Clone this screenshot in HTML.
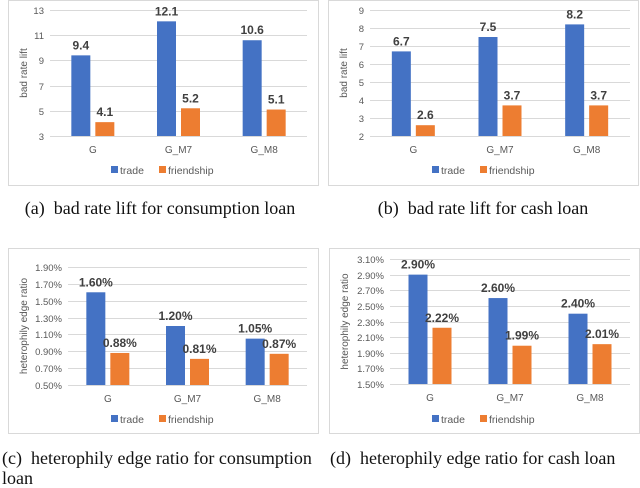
<!DOCTYPE html>
<html><head><meta charset="utf-8"><style>
body{margin:0;background:#fff;width:640px;height:486px;overflow:hidden;position:relative;font-family:"Liberation Sans",sans-serif}
svg{position:absolute;left:0;top:0}
.cap{position:absolute;font-family:"Liberation Serif",serif;font-size:18px;color:#111;white-space:nowrap}
</style></head><body>
<svg id="s" width="640" height="486"></svg>
<div class="cap" style="left:0px;top:198px;width:320px;text-align:center">(a)&nbsp; bad rate lift for consumption loan</div>
<div class="cap" style="left:328px;top:198px;width:310px;text-align:center">(b)&nbsp; bad rate lift for cash loan</div>
<div class="cap" style="left:2px;top:448px;line-height:20px">(c)&nbsp; heterophily edge ratio for consumption<br>loan</div>
<div class="cap" style="left:330px;top:448px">(d)&nbsp; heterophily edge ratio for cash loan</div>
<script>
const categories=["G","G_M7","G_M8"];
const tradeA=[9.4,12.1,10.6], friendA=[4.1,5.2,5.1];
const ticksA=[3,5,7,9,11,13];
const tradeB=[6.7,7.5,8.2], friendB=[2.6,3.7,3.7];
const ticksB=[2,3,4,5,6,7,8,9];
const tradeC=[1.60,1.20,1.05], friendC=[0.88,0.81,0.87];
const ticksC=[0.50,0.70,0.90,1.10,1.30,1.50,1.70,1.90];
const tradeD=[2.90,2.60,2.40], friendD=[2.22,1.99,2.01];
const ticksD=[1.50,1.70,1.90,2.10,2.30,2.50,2.70,2.90,3.10];
const svg=document.getElementById('s');const NS='http://www.w3.org/2000/svg';
function mk(t,a,txt){const e=document.createElementNS(NS,t);for(const k in a)e.setAttribute(k,a[k]);if(txt!=null)e.textContent=txt;svg.appendChild(e);return e;}
function chart(id,box,plot,ticks,trade,friend,fmt,tfmt,title,legY,legX){
  let b=mk('rect',{x:box[0]+.5,y:box[1]+.5,width:box[2],height:box[3],fill:'#fff',stroke:'#d9d9d9'});
  
  const [x0,y0,x1,y1]=plot;const lo=ticks[0],hi=ticks[ticks.length-1];
  const sy=v=>y1-(v-lo)/(hi-lo)*(y1-y0);
  ticks.forEach(t=>{const y=Math.round(sy(t))+.5;
    let g=mk('line',{x1:x0,x2:x1,y1:y,y2:y,stroke:'#d9d9d9'});
    let l=mk('text',{x:x0-6,y:y+3.5,'text-anchor':'end','font-size':'9.5',fill:'#595959'},tfmt(t));});
  let yt=mk('text',{transform:`translate(${box[0]+19},${(y0+y1)/2}) rotate(-90)`,'text-anchor':'middle','font-size':'10',fill:'#595959'},title);
  
  const cw=(x1-x0)/categories.length,bw=19,gap=5;
  categories.forEach((c,i)=>{const cx=x0+cw*(i+.5);
    [[trade[i],'#4472C4',cx-gap/2-bw,'trade'],[friend[i],'#ED7D31',cx+gap/2,'friendship']].forEach(([v,col,bx,n])=>{
      const y=sy(v);let r=mk('rect',{x:bx,y:y,width:bw,height:y1-y,fill:col});
      
      let t=mk('text',{x:bx+bw/2,y:y-6,'text-anchor':'middle','font-size':'12','font-weight':'bold',fill:'#404040'},fmt(v));
      });
    let cl=mk('text',{x:cx,y:y1+17,'text-anchor':'middle','font-size':'10',fill:'#595959'},c);
    });
  [['#4472C4','trade',legX],['#ED7D31','friendship',legX+48]].forEach(([col,n,lx])=>{
    let s=mk('rect',{x:lx,y:legY-4,width:7,height:7,fill:col});
    let t=mk('text',{x:lx+9,y:legY+4,'font-size':'10.5',fill:'#595959'},n);});
}
const f1=v=>v.toFixed(1),f0=v=>String(v),fp=v=>v.toFixed(2)+'%';
chart('chart-a',[8,0,310,185],[50,10,307,136],ticksA,tradeA,friendA,f1,f0,'bad rate lift',170,111);
chart('chart-b',[328,0,310,185],[370,10,630,136],ticksB,tradeB,friendB,f1,f0,'bad rate lift',170,432);
chart('chart-c',[8,248,310,185],[68,267,307,385],ticksC,tradeC,friendC,fp,fp,'heterophily edge ratio',419,111);
chart('chart-d',[329,248,310,185],[390,259,630,384],ticksD,tradeD,friendD,fp,fp,'heterophily edge ratio',419,432);
</script>
</body></html>
